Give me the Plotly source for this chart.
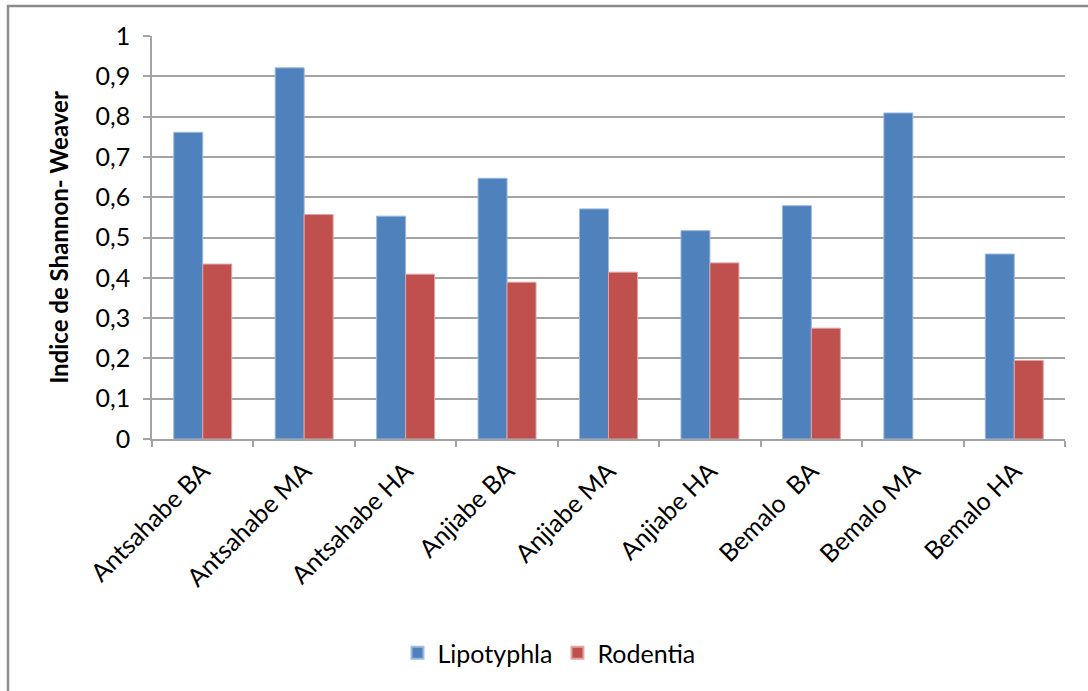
import plotly.graph_objects as go

# Shannon-Weaver diversity index per site and altitude band
sites = ["Antsahabe BA", "Antsahabe MA", "Antsahabe HA",
         "Anjiabe BA", "Anjiabe MA", "Anjiabe HA",
         "Bemalo\u00a0 BA", "Bemalo MA", "Bemalo HA"]
lipotyphla = [0.761, 0.921, 0.553, 0.647, 0.571, 0.517, 0.579, 0.809, 0.459]
rodentia = [0.434, 0.557, 0.409, 0.389, 0.414, 0.437, 0.275, None, 0.195]

y_ticks = [0, 0.1, 0.2, 0.3, 0.4, 0.5, 0.6, 0.7, 0.8, 0.9, 1]
y_tick_text = ["0", "0,1", "0,2", "0,3", "0,4", "0,5", "0,6", "0,7", "0,8", "0,9", "1"]

FONT = "Lato"
GRID = "#A3A3A3"

fig = go.Figure()
fig.add_trace(go.Bar(name="Lipotyphla", x=sites, y=lipotyphla,
                     marker=dict(color="#4F81BD", line=dict(color="#9DB9DC", width=1))))
fig.add_trace(go.Bar(name="Rodentia", x=sites, y=rodentia,
                     marker=dict(color="#C0504D", line=dict(color="#E0A4A2", width=1))))

W, H = 1088, 691
L, R, T, B = 152, 23, 36, 252
pw, ph = W - L - R, H - T - B


def px_x(px):
    return (px - L) / pw


def px_y(py):
    return (H - B - py) / ph


# outer chart frame (left and top edges)
frame = (f"M {px_x(8)} {px_y(691)} L {px_x(8)} {px_y(6)} L {px_x(1090)} {px_y(6)}")

fig.update_layout(
    width=W, height=H, autosize=False,
    margin=dict(l=L, r=R, t=T, b=B),
    paper_bgcolor="white", plot_bgcolor="white",
    barmode="group", bargap=0.4286, bargroupgap=0,
    font=dict(family=FONT, size=25, color="#000000"),
    separators=", ",
    showlegend=True,
    legend=dict(orientation="h", x=px_x(549), xanchor="center", y=px_y(653), yanchor="middle",
                font=dict(family=FONT, size=25), traceorder="normal",
                itemwidth=30, itemsizing="constant"),
    shapes=[dict(type="path", path=frame, xref="paper", yref="paper",
                 line=dict(color="#8C8C8C", width=2.5))],
)

fig.update_xaxes(
    type="category", tickangle=-45, tickson="boundaries",
    ticks="outside", ticklen=6, tickcolor=GRID, tickwidth=1.5,
    showline=True, linecolor=GRID, linewidth=1.5,
    showgrid=False, tickfont=dict(family=FONT, size=25),
    ticklabelstandoff=6,
)
fig.update_yaxes(
    range=[0, 1], tickvals=y_ticks, ticktext=y_tick_text,
    ticks="outside", ticklen=7, tickcolor=GRID, tickwidth=1.5,
    showline=True, linecolor=GRID, linewidth=1.5,
    showgrid=True, gridcolor=GRID, gridwidth=1.5,
    zeroline=False, ticklabelstandoff=8,
    tickfont=dict(family=FONT, size=25),
    title=dict(text="<b>Indice de Shannon- Weaver</b>", standoff=20,
               font=dict(family=FONT, size=24)),
)

fig.write_html("out.html")
